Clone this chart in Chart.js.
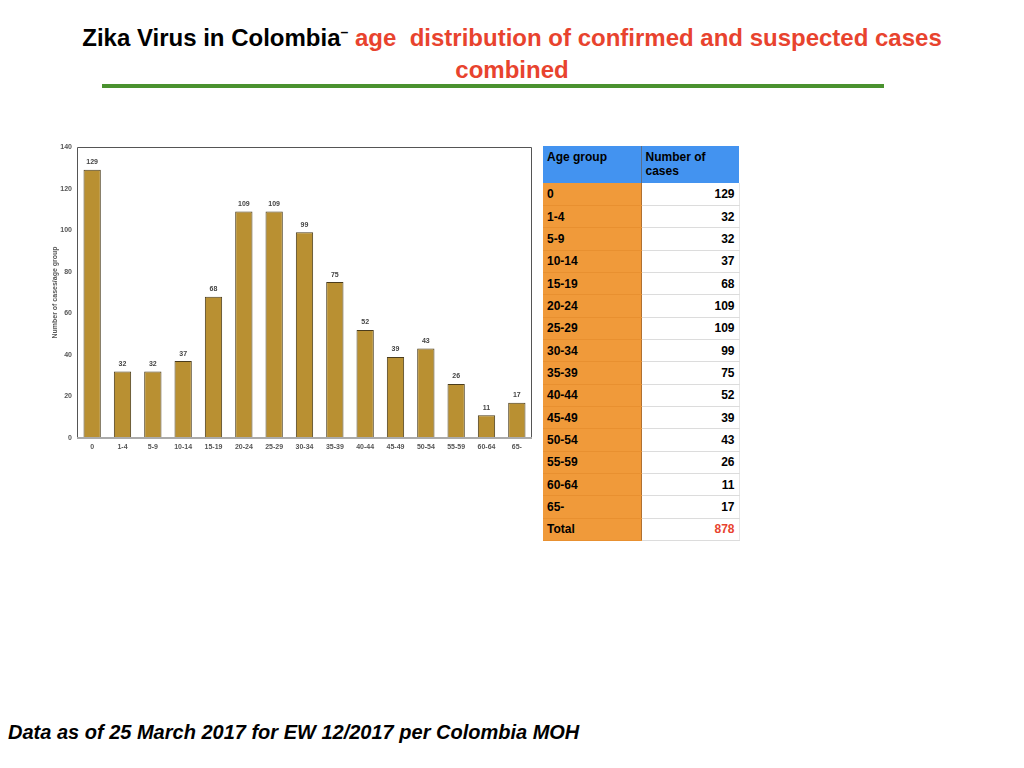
<!DOCTYPE html>
<html>
<head>
<meta charset="utf-8">
<script src="https://cdn.jsdelivr.net/npm/chart.js@4"></script>
<style>
  body { margin: 0; width: 1024px; height: 768px; background: #fff; position: relative; overflow: hidden; font-family: "Liberation Sans", Arial, sans-serif; }
  #title { position: absolute; left: 72px; top: 16px; width: 880px; text-align: center; font-family: "Liberation Sans Narrow", "Liberation Sans", sans-serif; font-weight: bold; font-size: 24px; line-height: 32px; }
  #title .black { color: #000; }
  #title .red { color: #e8432e; }
  #title sup { font-size: 14px; }
  #rule { position: absolute; left: 102px; top: 84px; width: 782px; height: 4px; background: #4a922f; }
  #chartBox { position: absolute; left: 40px; top: 130px; width: 500px; height: 330px; }
  #tbl { position: absolute; left: 543px; top: 146px; border-collapse: collapse; font-weight: bold; font-size: 12px; }
  #tbl td, #tbl th { padding: 0 4px; height: 22.35px; box-sizing: border-box; border-bottom: 1px solid #dcdcdc; }
  #tbl th { background: #4393f0; color: #000; text-align: left; vertical-align: top; height: 37px; padding-top: 4px; line-height: 14px; font-weight: bold; border-bottom: none; }
  #tbl th.c1 { border-right: 1px solid #5b6f8a; }
  #tbl td.age { background: #f09a3a; width: 98px; border-right: 1px solid #b07030; border-bottom: 1px solid #e89030; }
  #tbl td.num { width: 98px; text-align: right; border-right: 1px solid #e6e6e6; }
  #tbl td.red { color: #e8432e; }
  #foot { position: absolute; left: 8px; top: 721px; font-weight: bold; font-style: italic; font-size: 20px; color: #000; }
</style>
</head>
<body>
<div id="title"><span class="black">Zika Virus in Colombia<sup>–</sup></span> <span class="red">age&nbsp; distribution of confirmed and suspected cases combined</span></div>
<div id="rule"></div>
<div id="chartBox"><canvas id="zikaChart"></canvas></div>
<table id="tbl"></table>
<div id="foot">Data as of 25 March 2017 for EW 12/2017 per Colombia MOH</div>
<script>
const ageGroups = ["0", "1-4", "5-9", "10-14", "15-19", "20-24", "25-29", "30-34", "35-39", "40-44", "45-49", "50-54", "55-59", "60-64", "65-"];
const caseCounts = [129, 32, 32, 37, 68, 109, 109, 99, 75, 52, 39, 43, 26, 11, 17];
const yTicks = [0, 20, 40, 60, 80, 100, 120, 140];

// table beside the chart
const tbl = document.getElementById('tbl');
let html = '<tr><th class="c1">Age group</th><th>Number of<br>cases</th></tr>';
ageGroups.forEach((g, i) => {
  html += '<tr><td class="age">' + g + '</td><td class="num">' + caseCounts[i] + '</td></tr>';
});
const total = caseCounts.reduce((a, b) => a + b, 0);
html += '<tr><td class="age">Total</td><td class="num red">' + total + '</td></tr>';
tbl.innerHTML = html;

const fontFam = '"Liberation Sans", Arial, sans-serif';

// value labels above bars + frame around plot area
const barLabels = {
  id: 'barLabels',
  afterDatasetsDraw(chart) {
    const c = chart.ctx;
    const meta = chart.getDatasetMeta(0);
    c.save();
    c.font = 'bold 7px ' + fontFam;
    c.fillStyle = '#444';
    c.textAlign = 'center';
    c.textBaseline = 'bottom';
    meta.data.forEach((bar, i) => {
      c.fillText(caseCounts[i], bar.x, bar.y - 4);
    });
    c.restore();
  }
};
const frame = {
  id: 'frame',
  afterDraw(chart) {
    const a = chart.chartArea;
    const c = chart.ctx;
    c.save();
    c.strokeStyle = '#555';
    c.lineWidth = 1;
    c.beginPath();
    c.moveTo(a.left + 0.5, a.bottom);
    c.lineTo(a.left + 0.5, a.top + 0.5);
    c.lineTo(a.right - 0.5, a.top + 0.5);
    c.lineTo(a.right - 0.5, a.bottom);
    c.stroke();
    c.strokeStyle = '#aaa';
    c.lineWidth = 2;
    c.beginPath();
    c.moveTo(a.left, a.bottom);
    c.lineTo(a.right, a.bottom);
    c.stroke();
    c.restore();
  }
};

const ctx = document.getElementById('zikaChart').getContext('2d');
const zikaChart = new Chart(ctx, {
  type: 'bar',
  data: {
    labels: ageGroups,
    datasets: [{
      data: caseCounts,
      backgroundColor: '#b99032',
      borderColor: '#4a3c1c',
      borderWidth: 1,
      categoryPercentage: 1,
      barPercentage: 0.57
    }]
  },
  options: {
    responsive: true,
    maintainAspectRatio: false,
    animation: false,
    layout: { padding: { top: 17, right: 8, left: 9, bottom: 0 } },
    plugins: { legend: { display: false }, tooltip: { enabled: false } },
    scales: {
      x: {
        grid: { display: false, drawTicks: false },
        border: { display: false },
        ticks: { color: '#555', font: { size: 7, weight: 'bold', family: fontFam }, padding: 5, maxRotation: 0, autoSkip: false },
        afterFit(scale) { scale.height = 22; }
      },
      y: {
        min: 0,
        max: 140,
        afterBuildTicks(scale) { scale.ticks = yTicks.map(v => ({ value: v })); },
        grid: { display: false, drawTicks: false },
        border: { display: false },
        ticks: { color: '#555', font: { size: 7, weight: 'bold', family: fontFam }, padding: 5 },
        title: { display: true, text: 'Number of cases/age group', color: '#555', font: { size: 7, weight: 'bold', family: fontFam }, padding: 2 },
        afterFit(scale) { scale.width = 28; }
      }
    }
  },
  plugins: [barLabels, frame]
});
</script>
</body>
</html>
